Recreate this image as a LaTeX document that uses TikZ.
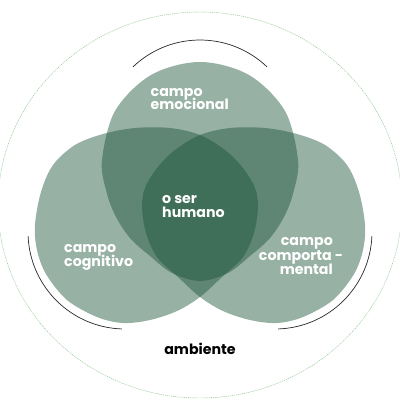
\documentclass[tikz,border=0pt]{standalone}
\usepackage{fontspec}
\setmainfont{Poppins}
\definecolor{venn}{RGB}{29,85,59}
\definecolor{ringgreen}{RGB}{140,195,140}
\definecolor{arcgray}{RGB}{40,40,40}
\tikzset{
  lobe/.style={fill=venn, fill opacity=0.46, draw=none},
  lbl/.style={text=white, font=\bfseries\fontsize{14.2}{14.2}\selectfont, inner sep=0pt},
  amb/.style={text=black, font=\bfseries\fontsize{14.2}{14.2}\selectfont, inner sep=0pt},
  bracket/.style={draw=arcgray, line width=0.7pt},
  ring/.style={draw=ringgreen, line width=0.45pt, dash pattern=on 1.2pt off 0.9pt}
}
\begin{document}
\begin{tikzpicture}[x=1pt,y=-1pt]
\useasboundingbox (0,0) rectangle (400,400);
\fill[white] (0,0) rectangle (400,400);
% outer ring
\draw[ring] (200,205) ellipse [x radius=202, y radius=193];
% brackets
\draw[bracket] (200,137) ++(226.3:97) arc[start angle=226.3, end angle=313.7, radius=97];
\draw[bracket] (125,232) ++(177.6:97) arc[start angle=177.6, end angle=91.8, radius=97];
\draw[bracket] (275,232) ++(2.4:97) arc[start angle=2.4, end angle=88.2, radius=97];
% lobes
\path[lobe] plot[smooth cycle, tension=0.55] coordinates {
 (200,62) (249,75) (285,111) (298,160) (294,190) (285,215) (270,238) (250,256) (228,273) (200,281) (172,273) (150,256) (130,238) (115,215) (106,190) (102,160) (115,111) (151,75)};
\path[lobe] plot[smooth cycle, tension=0.55] coordinates {
 (35,225) (41,192) (53,165) (75,145) (103,134) (135,128) (170,128) (200,135) (225,150) (243,168) (255,188) (258,207) (254,233) (243,257) (222,277) (200,297) (177,311) (150,320) (123,323) (97,317) (67,300) (46,274) (37,250)};
\path[lobe] plot[smooth cycle, tension=0.55] coordinates {
 (365,225) (359,192) (347,165) (325,145) (297,134) (265,128) (230,128) (200,135) (175,150) (157,168) (145,188) (142,207) (146,233) (157,257) (178,277) (200,297) (223,311) (250,320) (277,323) (303,317) (333,300) (354,274) (363,250)};
% labels
\node[lbl, anchor=base west] (emo1) at (150.5,96) {campo};
\node[lbl, anchor=base west] (emo2) at (150.5,109.5) {emocional};
\node[lbl, anchor=base west] (ser1) at (162,203.5) {o ser};
\node[lbl, anchor=base west] (ser2) at (162,217) {humano};
\node[lbl, anchor=base west] (cog1) at (64,252.5) {campo};
\node[lbl, anchor=base west] (cog2) at (64,266.5) {cognitivo};
\node[lbl, anchor=base east] (com1) at (333,245.7) {campo};
\node[lbl, anchor=base east] (com2) at (332,260) {comporta\rlap{ -}};
\node[lbl, anchor=base east] (com3) at (333,274) {mental};
\node[amb, anchor=base] (amb) at (200,354) {ambiente};
\end{tikzpicture}
\end{document}
